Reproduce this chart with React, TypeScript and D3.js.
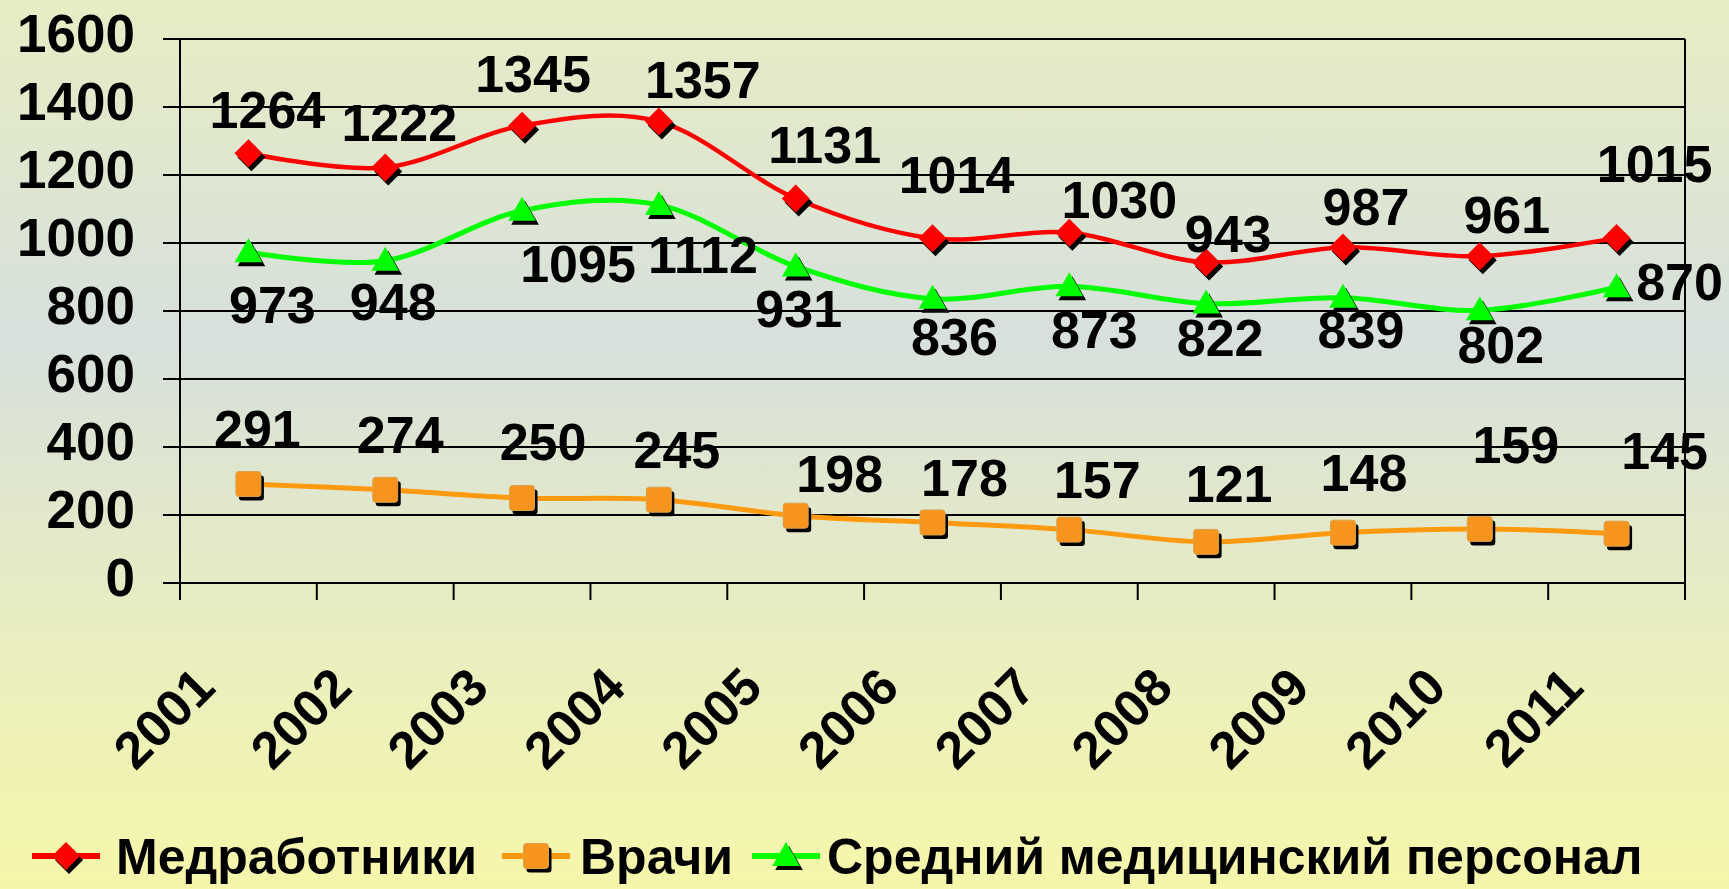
import React from "react";
import * as d3 from "d3";

// years on the category axis
const years = ["2001", "2002", "2003", "2004", "2005", "2006", "2007", "2008", "2009", "2010", "2011"];

// series values
const medWorkers = [1264, 1222, 1345, 1357, 1131, 1014, 1030, 943, 987, 961, 1015];
const doctors = [291, 274, 250, 245, 198, 178, 157, 121, 148, 159, 145];
const nurses = [973, 948, 1095, 1112, 931, 836, 873, 822, 839, 802, 870];

const yTicks = [0, 200, 400, 600, 800, 1000, 1200, 1400, 1600];

const seriesNames = ["Медработники", "Врачи", "Средний медицинский персонал"];

// hand placed data labels in the original: [dx, dy] from the point
const medLabelNudge = [[19, -25], [14, -27], [11, -34], [44, -24], [29, -35], [24, -45], [50, -15], [22, -10], [23, -22], [27, -23], [38, -56]];
const docLabelNudge = [[9, -37], [15, -37], [21, -38], [18, -32], [44, -24], [32, -26], [28, -32], [23, -40], [21, -42], [36, -66], [48, -65]];
const nurseLabelNudge = [[24, 71], [8, 59], [56, 71], [44, 68], [3, 61], [22, 56], [25, 62], [14, 52], [18, 50], [21, 53], [63, 13]];

const W = 1729;
const H = 889;
const margin = { top: 39, right: 44, bottom: 306, left: 180 };
const FONT = "'Liberation Sans', Arial, sans-serif";

const RED = "#ff0000";
const ORANGE = "#ff9a0e";
const GREEN = "#00ff00";

const diamondPath = d3.symbol(d3.symbolSquare, 392)()!;
const trianglePath = d3.symbol(d3.symbolTriangle, 330)()!;

const Marker = ({ kind, x, y, fill }: { kind: string; x: number; y: number; fill: string }) => {
  const shape = (dx: number, dy: number, color: string, stroke?: string) => {
    if (kind === "diamond")
      return <path d={diamondPath} transform={`translate(${x + dx},${y + dy}) rotate(45)`} fill={color} />;
    if (kind === "square")
      return (
        <rect x={x + dx - 12.5} y={y + dy - 12.5} width={25} height={25} rx={3} fill={color} stroke={stroke} strokeWidth={stroke ? 1 : 0} />
      );
    return <path d={trianglePath} transform={`translate(${x + dx},${y + dy + 2})`} fill={color} />;
  };
  return (
    <g>
      {shape(3, 4, "#000")}
      {shape(0, 0, fill, "#d9a24a")}
    </g>
  );
};

const App = () => {
  const x = d3
    .scaleBand()
    .domain(years)
    .range([margin.left, W - margin.right])
    .padding(0);
  const y = d3
    .scaleLinear()
    .domain([0, 1600])
    .range([H - margin.bottom, margin.top]);

  const cx = (d: string) => (x(d) as number) + x.bandwidth() / 2;

  const line = d3
    .line<number>()
    .x((_, i) => cx(years[i]))
    .y((v) => y(v))
    .curve(d3.curveCatmullRom.alpha(0));

  const series = [
    { name: seriesNames[0], values: medWorkers, color: RED, kind: "diamond", width: 4.5, nudge: medLabelNudge },
    { name: seriesNames[1], values: doctors, color: ORANGE, kind: "square", width: 5, nudge: docLabelNudge },
    { name: seriesNames[2], values: nurses, color: GREEN, kind: "triangle", width: 5, nudge: nurseLabelNudge },
  ];

  const x0 = margin.left;
  const x1 = W - margin.right;
  const yBottom = y(0);

  const legendItems = [
    { lx: 32, tx: 116, ...series[0] },
    { lx: 502, tx: 580, ...series[1] },
    { lx: 752, tx: 827, ...series[2] },
  ];

  return (
    <svg
      width={W}
      height={H}
      style={{ position: "absolute", left: 0, top: 0, display: "block" }}
      fontFamily={FONT}
    >
      <defs>
        <linearGradient id="bg" x1="0" y1="0" x2="0" y2="1">
          <stop offset="0" stopColor="#e7edc4" />
          <stop offset="0.38" stopColor="#d7e0dc" />
          <stop offset="0.75" stopColor="#ebefbd" />
          <stop offset="1" stopColor="#f6f6aa" />
        </linearGradient>
      </defs>
      <rect width={W} height={H} fill="url(#bg)" />

      {/* grid lines with left ticks */}
      {yTicks.map((t) => (
        <line key={t} x1={x0 - 17} x2={x1} y1={y(t)} y2={y(t)} stroke="#000" strokeWidth={2} />
      ))}
      {/* plot border: left axis and right edge */}
      <line x1={x0} x2={x0} y1={y(1600)} y2={yBottom + 17} stroke="#000" strokeWidth={2} />
      <line x1={x1} x2={x1} y1={y(1600)} y2={yBottom + 17} stroke="#000" strokeWidth={2} />
      {/* category tick marks */}
      {years.map((d) => (
        <line key={d} x1={x(d)} x2={x(d)} y1={yBottom} y2={yBottom + 17} stroke="#000" strokeWidth={2} />
      ))}

      {/* y tick labels */}
      {yTicks.map((t) => (
        <text key={t} x={135} y={y(t) + 13} textAnchor="end" fontSize={53} fontWeight="bold">
          {t}
        </text>
      ))}

      {/* x tick labels, rotated */}
      {years.map((d) => (
        <text
          key={d}
          transform={`translate(${cx(d) - 31},${yBottom + 107}) rotate(-45)`}
          textAnchor="end"
          fontSize={52}
          fontWeight="bold"
        >
          {d}
        </text>
      ))}

      {/* lines */}
      {series.map((s) => (
        <path key={s.name} d={line(s.values) || ""} fill="none" stroke={s.color} strokeWidth={s.width} />
      ))}

      {/* markers */}
      {series.map((s) =>
        s.values.map((v, i) => (
          <Marker key={s.name + i} kind={s.kind} x={cx(years[i])} y={y(v)} fill={s.color === ORANGE ? "#f7941d" : s.color} />
        ))
      )}

      {/* data labels */}
      {series.map((s) =>
        s.values.map((v, i) => (
          <text
            key={"l" + s.name + i}
            x={cx(years[i]) + s.nudge[i][0]}
            y={y(v) + s.nudge[i][1]}
            textAnchor="middle"
            fontSize={52}
            fontWeight="bold"
          >
            {v}
          </text>
        ))
      )}

      {/* legend */}
      {legendItems.map((it) => (
        <g key={"lg" + it.name}>
          <line x1={it.lx} x2={it.lx + 68} y1={856} y2={856} stroke={it.color} strokeWidth={6} />
          <Marker kind={it.kind} x={it.lx + 34} y={856} fill={it.color === ORANGE ? "#f7941d" : it.color} />
          <text x={it.tx} y={874} fontSize={50} fontWeight="bold">
            {it.name}
          </text>
        </g>
      ))}
    </svg>
  );
};

export default App;
